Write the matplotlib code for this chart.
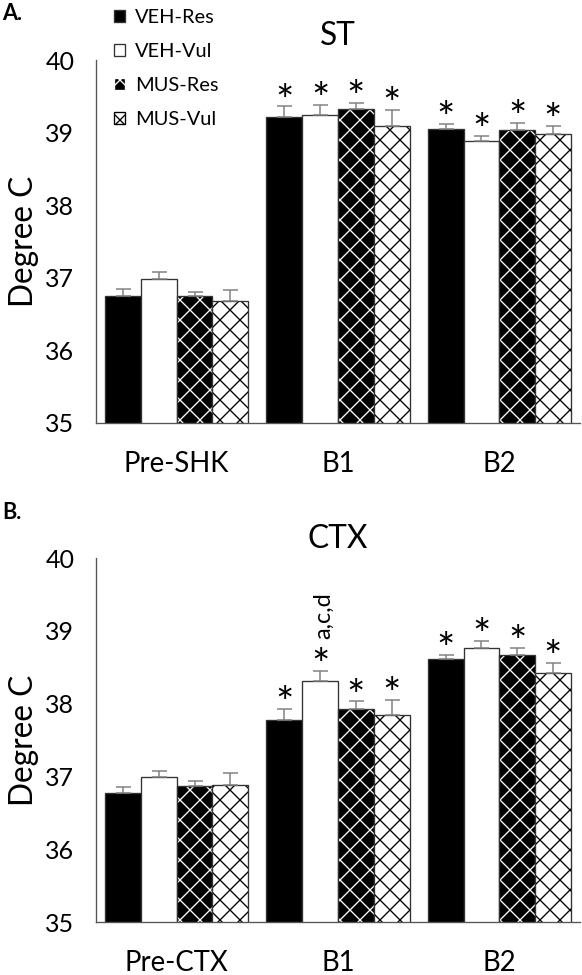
import numpy as np
import matplotlib.pyplot as plt
from matplotlib.patches import Patch

plt.rcParams['font.family'] = ['Lato', 'DejaVu Sans']
plt.rcParams['hatch.linewidth'] = 0.8

groups = ['VEH-Res', 'VEH-Vul', 'MUS-Res', 'MUS-Vul']
faces = ['black', 'white', 'black', 'white']
hatch_cols = ['black', 'white', 'white', 'black']
hatches = ['', '', 'xx', 'xx']

cats_st = ['Pre-SHK', 'B1', 'B2']
st_mean = [[36.75, 39.21, 39.05],
           [36.98, 39.24, 38.88],
           [36.75, 39.32, 39.03],
           [36.68, 39.09, 38.98]]
st_err = [[0.09, 0.15, 0.07],
          [0.10, 0.14, 0.08],
          [0.05, 0.09, 0.10],
          [0.15, 0.22, 0.11]]

cats_ctx = ['Pre-CTX', 'B1', 'B2']
ctx_mean = [[36.77, 37.78, 38.61],
            [36.99, 38.31, 38.77],
            [36.87, 37.93, 38.67],
            [36.88, 37.84, 38.42]]
ctx_err = [[0.09, 0.15, 0.06],
           [0.09, 0.14, 0.09],
           [0.07, 0.10, 0.10],
           [0.16, 0.21, 0.14]]

# significance stars: 1 = '*'
st_star = [[0, 1, 1], [0, 1, 1], [0, 1, 1], [0, 1, 1]]
ctx_star = [[0, 1, 1], [0, 1, 1], [0, 1, 1], [0, 1, 1]]

fig = plt.figure(figsize=(582 / 120, 975 / 120), dpi=120)
ax1 = fig.add_axes([96 / 582, 1 - 423 / 975, 484 / 582, 363 / 975])
ax2 = fig.add_axes([96 / 582, 1 - 922 / 975, 484 / 582, 364 / 975])

w = 0.2217


def draw(ax, cats, means, errs, stars, title, tpad):
    x = np.arange(len(cats))
    for i in range(4):
        xs = x + (i - 1.5) * w
        ax.bar(xs, means[i], w, bottom=0, color=faces[i], edgecolor=hatch_cols[i],
               hatch=hatches[i], linewidth=0)
        ax.bar(xs, means[i], w, fill=False, edgecolor='#333333', linewidth=0.8,
               yerr=[np.zeros(3), errs[i]], ecolor='#808080', capsize=4.5,
               error_kw=dict(elinewidth=0.9, capthick=0.9))
        for j in range(3):
            if stars[i][j]:
                ax.annotate('*', (xs[j], means[i][j] + errs[i][j]), xytext=(0, -5),
                            textcoords='offset points', ha='center', va='baseline',
                            fontsize=26)
    ax.set_ylim(35, 40)
    ax.set_xlim(-0.5, 2.5)
    ax.set_yticks([35, 36, 37, 38, 39, 40])
    ax.set_xticks(x)
    ax.set_xticklabels(cats)
    ax.tick_params(axis='y', length=0, pad=13, labelsize=15)
    ax.tick_params(axis='x', length=0, pad=17, labelsize=16.5)
    for s in ['top', 'right']:
        ax.spines[s].set_visible(False)
    for s in ['left', 'bottom']:
        ax.spines[s].set_color('#555555')
        ax.spines[s].set_linewidth(0.8)
    ax.set_ylabel('Degree C', fontsize=19, va='center')
    ax.yaxis.set_label_coords(-0.148, 0.5)
    ax.set_title(title, fontsize=19, pad=tpad)


draw(ax1, cats_st, st_mean, st_err, st_star, 'ST', 9)
draw(ax2, cats_ctx, ctx_mean, ctx_err, ctx_star, 'CTX', 6)

# extra label over VEH-Vul star in CTX B1
ax2.annotate('a,c,d', (1 - 0.5 * w, ctx_mean[1][1] + ctx_err[1][1]), xytext=(2, 33),
             textcoords='offset points', ha='center', va='center', rotation=90,
             fontsize=14)

fig.text(2 / 582, 1 - 3 / 975, 'A.', fontsize=13, fontweight='bold', va='top')
fig.text(2 / 582, 1 - 502 / 975, 'B.', fontsize=13, fontweight='bold', va='top')

handles = [Patch(facecolor=faces[i], edgecolor=hatch_cols[i] if hatches[i] else '#333333',
                 hatch=hatches[i], linewidth=0.8) for i in range(4)]
fig.legend(handles, groups, loc='upper left', bbox_to_anchor=(100 / 582, 1.005),
           frameon=False, fontsize=12, handlelength=0.55, handleheight=0.55,
           handletextpad=0.5, labelspacing=0.85, borderpad=0.2)

fig.savefig('out.png', dpi=120)
